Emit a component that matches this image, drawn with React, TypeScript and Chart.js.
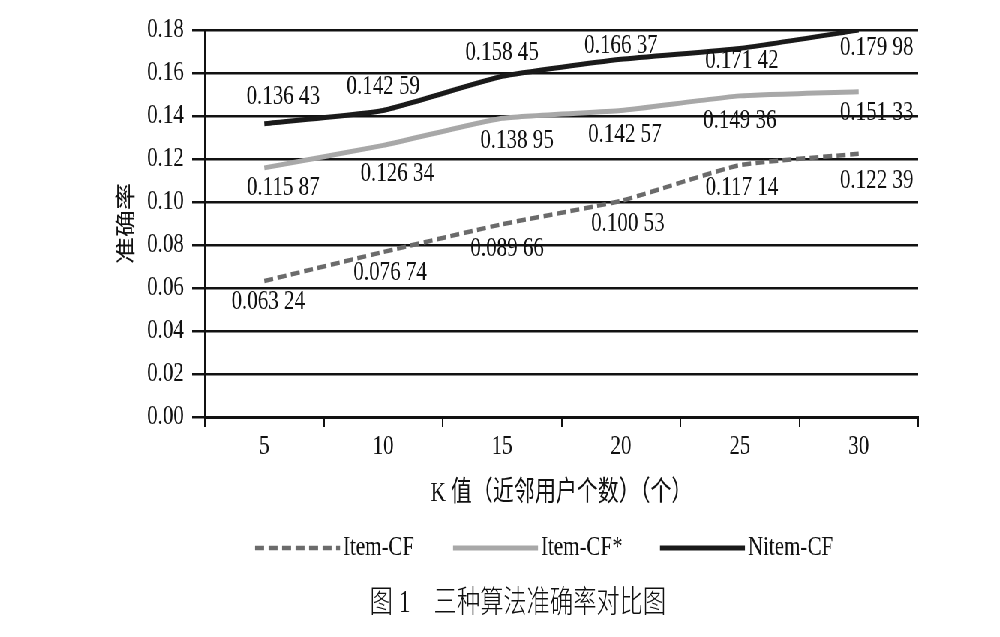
import React, { useEffect, useRef } from "react";
import { Chart, registerables } from "chart.js";

Chart.register(...registerables);

// ---- data ----
const categories = ["5", "10", "15", "20", "25", "30"];
const itemCF = [0.06324, 0.07674, 0.08966, 0.10053, 0.11714, 0.12239];
const itemCFStar = [0.11587, 0.12634, 0.13895, 0.14257, 0.14936, 0.15133];
const nitemCF = [0.13643, 0.14259, 0.15845, 0.16637, 0.17142, 0.17998];
const seriesNames = ["Item-CF", "Item-CF*", "Nitem-CF"];
const yMin = 0;
const yMax = 0.18;
const yStep = 0.02;
const xTitle = "K 值（近邻用户个数）（个）";
const yTitle = "准确率";
const caption = "图 1　三种算法准确率对比图";

// ---- layout (visual px) ----
const CANVAS_W = 1333;
const CANVAS_H = 637;
const S = 1000 / CANVAS_W; // horizontal condensation
const labelOffsets = [
  [[4, 21], [7, 21], [5, 24], [7, 23], [2, 22], [18, 27]],
  [[19, 20], [14, 28], [15, 22], [4, 24], [0, 25], [18, 21]],
  [[19, -27], [0, -24], [0, -24], [0, -14], [2, 12], [18, 18]],
];
const legendStarts = [255, 453, 660];
const legendLineLen = 85;
const legendY = 548;
const captionX = 518;
const captionY = 604;

const FONT = '"Liberation Serif", "Noto Sans CJK SC", serif';
const INK = "#111111";

function fmt(v: number) {
  const s = v.toFixed(5);
  return s.slice(0, 5) + " " + s.slice(5);
}

const overlayPlugin = {
  id: "overlay",
  afterDatasetsDraw(chart: any) {
    const ctx = chart.ctx;
    ctx.save();
    ctx.font = `28px ${FONT}`;
    ctx.fillStyle = INK;
    ctx.textAlign = "center";
    ctx.textBaseline = "middle";
    chart.data.datasets.forEach((ds: any, di: number) => {
      const meta = chart.getDatasetMeta(di);
      meta.data.forEach((pt: any, i: number) => {
        const [dx, dy] = labelOffsets[di][i];
        ctx.fillText(fmt(ds.data[i]), pt.x + dx / S, pt.y + dy);
      });
    });
    ctx.restore();
  },
  afterDraw(chart: any) {
    const ctx = chart.ctx;
    ctx.save();
    // legend
    chart.data.datasets.forEach((ds: any, di: number) => {
      const x0 = legendStarts[di] / S;
      const x1 = (legendStarts[di] + legendLineLen) / S;
      ctx.beginPath();
      ctx.strokeStyle = ds.borderColor;
      ctx.lineWidth = ds.borderWidth;
      ctx.setLineDash(ds.borderDash || []);
      ctx.moveTo(x0, legendY);
      ctx.lineTo(x1, legendY);
      ctx.stroke();
      ctx.setLineDash([]);
      ctx.font = `28px ${FONT}`;
      ctx.fillStyle = INK;
      ctx.textAlign = "left";
      ctx.textBaseline = "middle";
      ctx.fillText(ds.label, x1 + 4, legendY);
    });
    // caption
    ctx.font = `300 31px ${FONT}`;
    ctx.textAlign = "center";
    ctx.textBaseline = "middle";
    ctx.fillStyle = INK;
    ctx.fillText(caption, captionX / S, captionY);
    ctx.restore();
  },
};

export default function App() {
  const ref = useRef<HTMLCanvasElement>(null);
  useEffect(() => {
    document.body.style.overflow = "hidden";
    const canvas = ref.current!;
    const chart = new Chart(canvas, {
      type: "line",
      data: {
        labels: categories,
        datasets: [
          {
            label: seriesNames[0],
            data: itemCF,
            borderColor: "#6b6b6b",
            borderWidth: 4.5,
            borderDash: [12, 6],
            tension: 0.15,
            pointRadius: 0,
            fill: false,
          },
          {
            label: seriesNames[1],
            data: itemCFStar,
            borderColor: "#a8a8a8",
            borderWidth: 5,
            tension: 0.15,
            pointRadius: 0,
            fill: false,
          },
          {
            label: seriesNames[2],
            data: nitemCF,
            borderColor: "#1a1a1a",
            borderWidth: 5,
            tension: 0.15,
            pointRadius: 0,
            fill: false,
          },
        ],
      },
      options: {
        responsive: false,
        animation: false,
        devicePixelRatio: 1,
        layout: { padding: { left: 154, right: 109, top: 30, bottom: 127 } },
        plugins: {
          legend: { display: false },
          tooltip: { enabled: false },
          title: { display: false },
        },
        scales: {
          x: {
            type: "category",
            offset: true,
            grid: {
              display: true,
              drawOnChartArea: false,
              drawTicks: true,
              tickLength: 10,
              color: INK,
              lineWidth: 2,
              offset: true,
            },
            border: { display: true, color: INK, width: 3 },
            ticks: { font: { family: FONT, size: 28 }, color: INK, padding: 3, maxRotation: 0 },
            title: {
              display: true,
              text: xTitle,
              font: { family: FONT, size: 28 },
              color: INK,
              padding: { top: 0, bottom: 0 },
            },
            afterFit: (s: any) => {
              s.height = 93;
            },
          },
          y: {
            min: yMin,
            max: yMax,
            ticks: {
              stepSize: yStep,
              callback: (v: any) => Number(v).toFixed(2),
              padding: 11,
              font: { family: FONT, size: 28 },
              color: INK,
            },
            grid: { color: INK, lineWidth: 2.5, tickLength: 17, drawTicks: true },
            border: { display: true, color: INK, width: 2 },
            title: {
              display: true,
              text: yTitle,
              font: { family: FONT, size: 27 },
              color: INK,
              padding: { top: 0, bottom: 0 },
            },
            afterFit: (s: any) => {
              s.width = 119;
            },
          },
        },
      },
      plugins: [overlayPlugin],
    } as any);
    return () => chart.destroy();
  }, []);
  return (
    <div
      style={{
        position: "absolute",
        left: 0,
        top: 0,
        width: CANVAS_W,
        height: CANVAS_H,
        transform: `scaleX(${S})`,
        transformOrigin: "0 0",
        background: "#fff",
      }}
    >
      <canvas ref={ref} width={CANVAS_W} height={CANVAS_H} style={{ display: "block", width: CANVAS_W, height: CANVAS_H }} />
    </div>
  );
}
